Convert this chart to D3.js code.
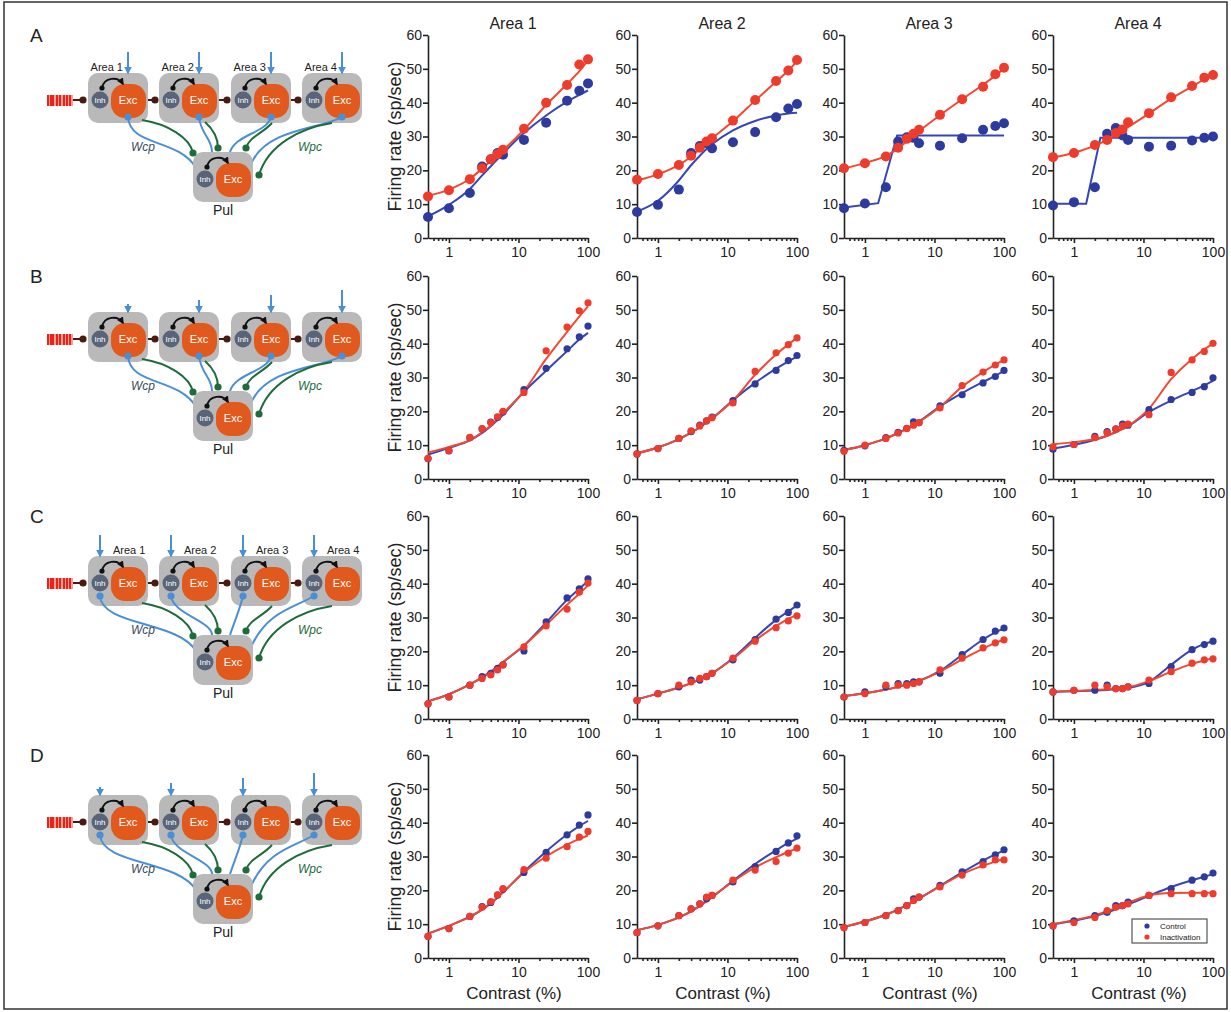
<!DOCTYPE html>
<html>
<head>
<meta charset="utf-8">
<script src="https://cdn.jsdelivr.net/npm/d3@7"></script>
<style>
  body { margin: 0; background: #fff; }
  text { font-family: "Liberation Sans", Arial, sans-serif; fill: #222; }
</style>
</head>
<body>
<svg id="fig"></svg>
<script>
const W = 1231, H = 1012;

const contrast = [0.5, 1, 2, 3, 4, 5, 6, 12, 25, 50, 75, 100];
const areas = ['Area 1', 'Area 2', 'Area 3', 'Area 4'];
const rowLetters = ['A', 'B', 'C', 'D'];
const yTicks = [0, 10, 20, 30, 40, 50, 60];
const xTicks = [1, 10, 100];
const xMinor = [0.6, 0.7, 0.8, 0.9, 2, 3, 4, 5, 6, 7, 8, 9, 20, 30, 40, 50, 60, 70, 80, 90];

// row A
const ctrlA = [
    [6.2, 8.8, 13.3, 21.1, 23.3, 25.1, 24.6, 29.0, 34.1, 40.6, 43.5, 45.7],
    [7.7, 9.8, 14.3, 25.1, 27.2, 28.0, 26.5, 28.3, 31.3, 35.7, 38.3, 39.6],
    [8.8, 10.2, 15.0, 28.5, 29.8, 29.6, 28.0, 27.3, 29.5, 32.0, 33.1, 33.9],
    [9.6, 10.6, 15.0, 30.8, 32.5, 30.3, 29.0, 27.0, 27.3, 28.8, 29.6, 30.0]
];
const inacA = [
    [12.3, 14.1, 17.4, 20.6, 23.3, 24.8, 26.1, 32.3, 40.0, 45.2, 51.3, 52.8],
    [17.2, 18.9, 21.6, 24.3, 26.7, 28.5, 29.5, 34.7, 40.8, 46.4, 49.5, 52.6],
    [20.6, 22.1, 24.1, 26.7, 29.3, 30.8, 32.0, 36.4, 41.0, 44.7, 48.4, 50.3],
    [23.9, 25.1, 27.5, 29.0, 31.0, 32.1, 34.2, 36.9, 41.6, 44.9, 47.4, 48.2]
];
const ctrlFitXA = [contrast, contrast, [0.5, 1.55, 2.9, 100], [0.5, 1.5, 2.4, 100]];
const ctrlFitA = [
    [6.4, 9.8, 14.5, 18.5, 21.2, 23.3, 25.0, 31.0, 36.2, 40.3, 42.3, 43.6],
    [7.8, 11.0, 17.0, 21.5, 24.3, 26.3, 27.7, 31.8, 34.6, 36.2, 36.8, 37.0],
    [9.0, 10.3, 30.3, 30.3],
    [10.1, 10.1, 29.6, 29.6]
];
const inacFitA = [
    [12.5, 14.3, 17.5, 20.5, 22.8, 24.6, 26.0, 32.0, 39.3, 45.5, 49.3, 52.5],
    [17.0, 18.8, 21.6, 24.0, 26.3, 28.2, 29.5, 34.5, 40.6, 46.2, 49.5, 52.3],
    [20.5, 22.2, 24.3, 26.5, 28.6, 30.3, 31.6, 36.3, 41.0, 45.3, 48.0, 50.0],
    [23.8, 25.2, 27.3, 29.0, 30.5, 31.8, 32.8, 36.8, 41.2, 44.8, 46.9, 48.1]
];

// row B
const ctrlB = [
    [6.0, 8.3, 12.2, 14.8, 16.8, 18.2, 19.8, 26.4, 32.7, 38.5, 42.0, 45.2],
    [7.4, 9.0, 12.0, 14.0, 15.9, 17.2, 18.3, 23.2, 28.1, 32.1, 35.0, 36.5],
    [8.5, 9.8, 12.2, 13.8, 15.0, 16.9, 16.6, 21.6, 24.9, 28.4, 30.3, 32.1],
    [8.8, 10.2, 12.6, 14.0, 14.8, 16.2, 15.9, 20.5, 23.5, 25.6, 27.3, 29.9]
];
const inacB = [
    [6.1, 8.4, 12.3, 14.9, 16.7, 18.4, 20.0, 25.6, 37.9, 44.9, 49.7, 52.1],
    [7.4, 9.0, 12.0, 14.2, 15.7, 17.2, 18.1, 22.5, 31.8, 37.3, 39.7, 41.7],
    [8.2, 10.0, 12.0, 13.6, 14.9, 15.9, 16.7, 21.0, 27.6, 31.6, 33.7, 35.2],
    [9.5, 10.2, 12.2, 13.7, 14.7, 15.7, 16.2, 19.0, 31.5, 35.2, 37.7, 40.1]
];
const ctrlFitB = [
    [7.2, 9.2, 11.4, 13.6, 15.6, 17.4, 19.0, 25.8, 32.0, 37.8, 41.2, 43.2],
    [7.6, 9.3, 11.8, 13.7, 15.3, 16.7, 17.9, 23.3, 28.4, 32.6, 34.8, 36.2],
    [8.6, 10.0, 12.0, 13.6, 14.9, 16.0, 17.0, 21.5, 25.4, 28.7, 30.5, 32.0],
    [9.0, 10.1, 11.6, 12.8, 13.9, 14.8, 15.6, 19.8, 23.2, 26.0, 27.7, 29.0]
];
const inacFitB = [
    [7.8, 9.5, 11.5, 13.8, 15.8, 17.7, 19.4, 26.0, 35.5, 43.5, 48.0, 51.0],
    [7.6, 9.3, 11.8, 13.7, 15.3, 16.7, 17.9, 23.2, 30.8, 36.8, 39.8, 41.7],
    [8.6, 10.0, 12.0, 13.6, 14.9, 15.9, 16.9, 21.3, 27.3, 31.6, 33.8, 35.2],
    [10.3, 10.9, 11.8, 12.8, 13.8, 14.8, 15.7, 20.8, 29.5, 35.5, 38.3, 40.0]
];

// row C
const ctrlC = [
    [4.5, 6.5, 10.0, 12.5, 13.5, 15.0, 16.0, 20.1, 28.7, 35.8, 38.5, 41.4],
    [5.5, 7.5, 9.5, 11.5, 11.5, 12.5, 13.5, 17.5, 23.5, 29.5, 31.5, 33.7],
    [6.5, 8.0, 9.5, 10.5, 10.5, 11.0, 11.0, 13.5, 19.0, 23.5, 26.0, 26.9],
    [8.0, 8.5, 8.5, 10.0, 9.0, 9.0, 9.5, 10.5, 15.5, 20.5, 22.0, 23.0]
];
const inacC = [
    [4.5, 6.5, 10.0, 12.0, 13.0, 14.5, 16.0, 21.3, 27.5, 32.5, 37.5, 40.2],
    [5.5, 7.5, 10.0, 11.0, 12.0, 12.5, 13.5, 18.0, 23.0, 27.0, 29.0, 30.5],
    [6.5, 7.5, 10.0, 10.0, 10.0, 10.5, 11.0, 14.5, 18.0, 21.0, 22.5, 23.4],
    [8.0, 8.5, 10.0, 9.5, 9.0, 9.0, 9.5, 11.5, 14.0, 16.5, 17.5, 17.8]
];
const ctrlFitC = [
    [5.2, 7.3, 10.2, 12.3, 14.0, 15.5, 16.8, 21.7, 28.5, 35.2, 38.5, 40.8],
    [5.8, 7.5, 9.3, 10.6, 11.7, 12.6, 13.5, 18.0, 24.0, 29.3, 31.8, 33.5],
    [6.8, 7.6, 8.7, 9.5, 10.2, 10.8, 11.3, 14.2, 19.0, 23.5, 25.6, 26.8],
    [8.0, 8.2, 8.4, 8.6, 8.8, 9.0, 9.2, 11.0, 16.0, 20.5, 22.2, 23.0]
];
const inacFitC = [
    [5.2, 7.3, 10.2, 12.3, 14.0, 15.5, 16.8, 21.7, 27.8, 33.8, 37.0, 39.5],
    [5.8, 7.5, 9.3, 10.6, 11.7, 12.6, 13.5, 17.8, 23.2, 27.5, 29.6, 30.8],
    [6.8, 7.6, 8.7, 9.5, 10.2, 10.8, 11.3, 14.0, 17.6, 20.8, 22.5, 23.5],
    [8.1, 8.3, 8.6, 8.8, 9.0, 9.2, 9.4, 11.2, 14.0, 16.3, 17.3, 18.0]
];

// row D
const ctrlD = [
    [6.4, 8.7, 12.3, 15.2, 16.4, 18.6, 20.3, 25.3, 31.2, 36.4, 39.3, 42.3],
    [7.5, 9.5, 12.5, 14.5, 16.0, 17.5, 18.5, 22.5, 27.0, 31.5, 34.0, 36.1],
    [9.0, 10.5, 12.5, 14.0, 15.5, 17.5, 18.0, 21.5, 25.5, 28.5, 30.5, 32.0],
    [9.5, 11.0, 12.5, 13.5, 15.5, 15.5, 16.5, 18.5, 20.5, 23.0, 24.0, 25.1]
];
const inacD = [
    [6.4, 8.7, 12.3, 15.0, 16.7, 18.7, 20.5, 26.1, 29.5, 32.9, 35.7, 37.4],
    [7.5, 9.5, 12.5, 14.5, 16.0, 18.0, 18.5, 23.0, 26.0, 28.5, 31.0, 32.5],
    [9.0, 10.5, 12.5, 14.0, 15.5, 17.0, 18.0, 21.0, 24.5, 27.5, 29.0, 29.0],
    [9.5, 10.5, 12.0, 14.0, 15.0, 15.5, 16.0, 18.5, 19.0, 19.0, 19.0, 19.0]
];
const ctrlFitD = [
    [7.2, 9.5, 12.2, 14.3, 16.2, 17.9, 19.4, 25.5, 31.5, 36.5, 39.0, 40.5],
    [8.2, 9.8, 12.0, 13.8, 15.4, 16.8, 18.0, 22.8, 27.8, 31.8, 34.0, 35.3],
    [9.2, 10.8, 12.8, 14.3, 15.6, 16.7, 17.6, 21.3, 25.3, 28.8, 30.6, 31.8],
    [10.0, 11.0, 12.4, 13.5, 14.4, 15.2, 15.8, 18.4, 21.0, 23.0, 24.0, 24.8]
];
const inacFitD = [
    [7.2, 9.5, 12.2, 14.3, 16.2, 17.9, 19.4, 25.3, 30.0, 33.5, 35.2, 36.2],
    [8.2, 9.8, 12.0, 13.8, 15.4, 16.8, 18.0, 22.6, 26.8, 29.8, 31.4, 32.4],
    [9.2, 10.8, 12.8, 14.3, 15.6, 16.7, 17.6, 21.2, 24.8, 27.3, 28.5, 29.3],
    [10.0, 11.2, 12.6, 13.8, 14.8, 15.6, 16.3, 18.5, 19.2, 19.3, 19.3, 19.3]
];

const rows = [
    { ctrl: ctrlA, inac: inacA, ctrlFit: ctrlFitA, inacFit: inacFitA, fitX: ctrlFitXA },
    { ctrl: ctrlB, inac: inacB, ctrlFit: ctrlFitB, inacFit: inacFitB },
    { ctrl: ctrlC, inac: inacC, ctrlFit: ctrlFitC, inacFit: inacFitC },
    { ctrl: ctrlD, inac: inacD, ctrlFit: ctrlFitD, inacFit: inacFitD }
];

const colX = [428, 637, 844, 1053];
const rowZero = [238, 479, 719, 958];
const pW = 160, pH = 203;

const ctrlDot = '#2d3b9f', ctrlLine = '#3646b4';
const inacDot = '#ef3b2c', inacLine = '#f04a32';

const svg = d3.select('#fig').attr('width', W).attr('height', H);
svg.append('rect').attr('width', W).attr('height', H).attr('fill', '#fff');
svg.append('rect')
    .attr('x', 4).attr('y', 2).attr('width', 1223).attr('height', 1007)
    .attr('fill', 'none').attr('stroke', '#333').attr('stroke-width', 1.5);

// panel charts
rows.forEach((row, r) => {
    const y0 = rowZero[r];
    svg.append('text')
        .attr('x', 30).attr('y', y0 - 196)
        .style('font-size', '19px')
        .text(rowLetters[r]);

    for (let c = 0; c < 4; c++) {
        const x = d3.scaleLog().domain([0.5, 100]).range([colX[c], colX[c] + pW]);
        const y = d3.scaleLinear().domain([0, 60]).range([y0, y0 - pH]);
        const g = svg.append('g');

        g.append('g').attr('transform', `translate(0,${y0})`)
            .call(d3.axisBottom(x).tickValues(xTicks).tickFormat(d3.format('d')).tickSize(5).tickSizeOuter(0).tickPadding(4));
        g.append('g').attr('transform', `translate(0,${y0})`)
            .call(d3.axisBottom(x).tickValues(xMinor).tickFormat('').tickSize(3))
            .select('.domain').remove();
        g.append('g').attr('transform', `translate(${colX[c]},0)`)
            .call(d3.axisLeft(y).tickValues(yTicks).tickSize(5).tickSizeOuter(0).tickPadding(1));
        g.selectAll('.domain, .tick line').attr('stroke', '#222').attr('stroke-width', 1.6);
        g.selectAll('.tick text').style('font-size', '14px').attr('fill', '#222')
            .style('font-family', '"Liberation Sans", Arial, sans-serif');

        const isStep = row.fitX && row.fitX[c] !== contrast;
        const cFitX = row.fitX ? row.fitX[c] : contrast;
        const line = d3.line().x(d => x(d[0])).y(d => y(d[1]));

        g.append('path')
            .datum(cFitX.map((v, i) => [v, row.ctrlFit[c][i]]))
            .attr('d', line.curve(isStep ? d3.curveLinear : d3.curveMonotoneX))
            .attr('fill', 'none').attr('stroke', ctrlLine).attr('stroke-width', 2);
        g.append('path')
            .datum(contrast.map((v, i) => [v, row.inacFit[c][i]]))
            .attr('d', line.curve(d3.curveMonotoneX))
            .attr('fill', 'none').attr('stroke', inacLine).attr('stroke-width', 2);

        const rad = r === 0 ? 5 : 3.6;
        g.selectAll('.cdot').data(row.ctrl[c]).enter().append('circle')
            .attr('cx', (d, i) => x(contrast[i])).attr('cy', d => y(d))
            .attr('r', rad).attr('fill', ctrlDot);
        g.selectAll('.idot').data(row.inac[c]).enter().append('circle')
            .attr('cx', (d, i) => x(contrast[i])).attr('cy', d => y(d))
            .attr('r', rad).attr('fill', inacDot);

        if (r === 0) {
            g.append('text').attr('x', colX[c] + pW / 2 + 5).attr('y', 29)
                .attr('text-anchor', 'middle').style('font-size', '16px').text(areas[c]);
        }
        if (r === 3) {
            g.append('text').attr('x', colX[c] + pW / 2 + 6).attr('y', 999)
                .attr('text-anchor', 'middle').style('font-size', '17px').text('Contrast (%)');
        }
        if (c === 0) {
            g.append('text')
                .attr('transform', `translate(401,${y0 - pH / 2}) rotate(-90)`)
                .attr('text-anchor', 'middle').style('font-size', '18px')
                .text('Firing rate (sp/sec)');
        }
    }
});

// legend
const lg = svg.append('g');
lg.append('rect').attr('x', 1132).attr('y', 919).attr('width', 75).attr('height', 24)
    .attr('fill', '#fff').attr('stroke', '#333').attr('stroke-width', 1);
[['Control', ctrlDot], ['Inactivation', inacDot]].forEach((d, i) => {
    lg.append('circle').attr('cx', 1147).attr('cy', 926 + i * 11).attr('r', 2.6).attr('fill', d[1]);
    lg.append('text').attr('x', 1160).attr('y', 929 + i * 11).style('font-size', '8px').text(d[0]);
});

// network schematics
const defs = svg.append('defs');
function marker(id, color, size) {
    defs.append('marker').attr('id', id).attr('viewBox', '0 0 10 10')
        .attr('refX', 8).attr('refY', 5).attr('markerWidth', size).attr('markerHeight', size)
        .attr('orient', 'auto').attr('markerUnits', 'userSpaceOnUse')
        .append('path').attr('d', 'M0,0 L10,5 L0,10 Z').attr('fill', color);
}
marker('arrBlue', '#4a8fd4', 8);
marker('arrBlack', '#111', 7);

const boxX = [88, 159, 231, 302];
const blueCol = '#4a8fd4', greenCol = '#1e6b3c', brown = '#4a1a12';
const diagrams = [
    { target: 'exc', arrows: [21, 21, 21, 21], labels: 'left', dy: 0 },
    { target: 'exc', arrows: [8, 12, 17, 22], labels: null, dy: 239 },
    { target: 'inh', arrows: [21, 21, 21, 21], labels: 'right', dy: 483 },
    { target: 'inh', arrows: [8, 12, 17, 22], labels: null, dy: 722 }
];

function unit(g, bx, by) {
    const w = 60, h = 50;
    g.append('rect').attr('x', bx).attr('y', by).attr('width', w).attr('height', h)
        .attr('rx', 10).attr('fill', '#b9b9b9');
    g.append('rect').attr('x', bx + 23).attr('y', by + 11).attr('width', 35).attr('height', 34)
        .attr('rx', 14).attr('fill', '#e2591d');
    g.append('circle').attr('cx', bx + 12).attr('cy', by + 27).attr('r', 8.5).attr('fill', '#5a6478');
    g.append('text').attr('x', bx + 12).attr('y', by + 30).attr('text-anchor', 'middle')
        .style('font-size', '8px').style('fill', '#fff').text('Inh');
    g.append('text').attr('x', bx + 40).attr('y', by + 31).attr('text-anchor', 'middle')
        .style('font-size', '11px').style('fill', '#fff').text('Exc');
    g.append('path')
        .attr('d', `M${bx + 14},${by + 15} C${bx + 16},${by + 4} ${bx + 30},${by + 3} ${bx + 35},${by + 11}`)
        .attr('fill', 'none').attr('stroke', '#111').attr('stroke-width', 2)
        .attr('marker-end', 'url(#arrBlack)');
    g.append('circle').attr('cx', bx + 14).attr('cy', by + 15).attr('r', 2.6).attr('fill', '#111');
}

diagrams.forEach(dg => {
    const g = svg.append('g').attr('transform', `translate(0,${dg.dy})`);

    // stimulus grating
    g.append('rect').attr('x', 47).attr('y', 95).attr('width', 26).attr('height', 11).attr('fill', '#f7a096');
    [0, 3, 5, 9, 12, 16, 19, 22].forEach(o => {
        g.append('rect').attr('x', 47 + o).attr('y', 95).attr('width', 2).attr('height', 11).attr('fill', '#e8231a');
    });

    // feedforward dots
    const links = [[73, 83], [148, 155], [219, 227], [291, 298]];
    links.forEach(l => {
        g.append('line').attr('x1', l[0]).attr('x2', l[1]).attr('y1', 100).attr('y2', 100)
            .attr('stroke', brown).attr('stroke-width', 2);
        g.append('circle').attr('cx', l[1]).attr('cy', 100).attr('r', 3.6).attr('fill', brown);
    });

    boxX.forEach(bx => unit(g, bx, 73));

    // inputs
    boxX.forEach((bx, i) => {
        const ax = dg.target === 'exc' ? bx + 40 : bx + 12;
        g.append('line').attr('x1', ax).attr('x2', ax)
            .attr('y1', 73 - dg.arrows[i]).attr('y2', 73)
            .attr('stroke', blueCol).attr('stroke-width', 2).attr('marker-end', 'url(#arrBlue)');
        if (dg.labels === 'left') {
            g.append('text').attr('x', ax - 5).attr('y', 71).attr('text-anchor', 'end')
                .style('font-size', '11px').text(areas[i]);
        } else if (dg.labels === 'right') {
            g.append('text').attr('x', ax + 13).attr('y', 71)
                .style('font-size', '11px').text(areas[i]);
        }
    });

    // pulvinar links
    const bs = boxX.map(bx => dg.target === 'exc' ? [bx + 40, 117] : [bx + 12, 113]);
    const blues = [
        `M${bs[0][0]},${bs[0][1]} C${bs[0][0] + 2},${bs[0][1] + 30} 178,138 196,168`,
        `M${bs[1][0]},${bs[1][1]} C${bs[1][0] + 2},${bs[1][1] + 18} 212,138 212,152`,
        `M${bs[2][0]},${bs[2][1]} C${bs[2][0] - 4},${bs[2][1] + 16} 236,134 230,152`,
        `M${bs[3][0]},${bs[3][1]} C${bs[3][0] - 20},${bs[3][1] + 12} 268,128 252,162`
    ];
    const greens = [
        ['M142,120 C168,124 190,138 193,153', [193, 153]],
        ['M205,122 C214,130 218,138 218,148', [218, 148]],
        ['M272,123 C262,134 250,136 246,148', [246, 148]],
        ['M332,123 C300,128 268,145 259,175', [259, 175]]
    ];
    blues.forEach(p => g.append('path').attr('d', p).attr('fill', 'none')
        .attr('stroke', blueCol).attr('stroke-width', 2));
    greens.forEach(p => g.append('path').attr('d', p[0]).attr('fill', 'none')
        .attr('stroke', greenCol).attr('stroke-width', 2));

    unit(g, 193, 152);
    greens.forEach(p => g.append('circle').attr('cx', p[1][0]).attr('cy', p[1][1]).attr('r', 3.6).attr('fill', greenCol));
    bs.forEach(b => g.append('circle').attr('cx', b[0]).attr('cy', b[1]).attr('r', 3.6).attr('fill', blueCol));

    g.append('text').attr('x', 223).attr('y', 215).attr('text-anchor', 'middle')
        .style('font-size', '14px').text('Pul');
    g.append('text').attr('x', 143).attr('y', 151).attr('text-anchor', 'middle')
        .style('font-size', '12px').style('font-style', 'italic').style('fill', '#3a4a5e').text('Wcp');
    g.append('text').attr('x', 310).attr('y', 151).attr('text-anchor', 'middle')
        .style('font-size', '12px').style('font-style', 'italic').style('fill', greenCol).text('Wpc');
});
</script>
</body>
</html>
